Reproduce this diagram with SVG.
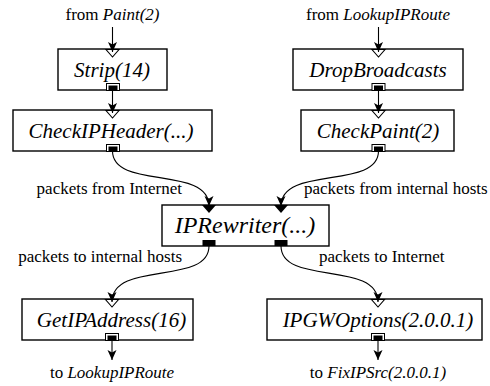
<svg xmlns="http://www.w3.org/2000/svg" width="490" height="386" viewBox="0 0 490 386" font-family="Liberation Serif, Times New Roman, serif">
<style>
.box{fill:#fff;stroke:#000;stroke-width:1.4}
.lbl{font-style:italic;font-size:21px;fill:#000}
.txt{font-size:17px;fill:#000}
.it{font-style:italic}
.conn{fill:none;stroke:#000;stroke-width:1.1}
.chev{fill:#fff;stroke:#000;stroke-width:1.1}
.opo{fill:#fff;stroke:#000;stroke-width:1}
.blk{fill:#000}
</style>
<defs>
<marker id="ah" markerUnits="userSpaceOnUse" markerWidth="10" markerHeight="10" refX="10" refY="4.5" orient="auto">
<path d="M0,0 L10,4.5 L0,9 L2.5,4.5 z" fill="#000"/>
</marker>
</defs>

<g id="Strip">
<rect class="box" x="58" y="49" width="109" height="41"/>
<polygon class="chev" points="106,49.5 119,49.5 112.5,57"/>
<rect class="opo" x="106.5" y="83.5" width="13" height="7"/>
<rect class="blk" x="108.5" y="85.5" width="9" height="5"/>
<text class="lbl" font-family="Liberation Serif" x="112" y="76.5" text-anchor="middle">Strip(14)</text>
</g>

<g id="CheckIPHeader">
<rect class="box" x="13" y="110" width="199" height="41"/>
<polygon class="chev" points="106,110.5 119,110.5 112.5,118"/>
<rect class="opo" x="106.5" y="144.5" width="13" height="7"/>
<rect class="blk" x="108.5" y="146.5" width="9" height="5"/>
<text class="lbl" font-family="Liberation Serif" x="111" y="137.5" text-anchor="middle">CheckIPHeader(...)</text>
</g>

<g id="DropBroadcasts">
<rect class="box" x="293" y="49" width="170" height="41"/>
<polygon class="chev" points="372,49.5 385,49.5 378.5,57"/>
<rect class="opo" x="372" y="83.5" width="13" height="7"/>
<rect class="blk" x="374" y="85.5" width="9" height="5"/>
<text class="lbl" font-family="Liberation Serif" x="378" y="76.5" text-anchor="middle">DropBroadcasts</text>
</g>

<g id="CheckPaint">
<rect class="box" x="301" y="110" width="153" height="41"/>
<polygon class="chev" points="372,110.5 385,110.5 378.5,118"/>
<rect class="opo" x="372" y="144.5" width="13" height="7"/>
<rect class="blk" x="374" y="146.5" width="9" height="5"/>
<text class="lbl" font-family="Liberation Serif" x="378" y="137.5" text-anchor="middle">CheckPaint(2)</text>
</g>

<g id="IPRewriter">
<rect class="box" x="162" y="205" width="167" height="41"/>
<polygon class="blk" points="202,205 216,205 209,213"/>
<polygon class="blk" points="274,205 288,205 281,213"/>
<rect class="blk" x="202.5" y="240" width="13" height="6"/>
<rect class="blk" x="274.5" y="240" width="13" height="6"/>
<text class="lbl" font-family="Liberation Serif" x="245" y="233" text-anchor="middle" style="font-size:24px">IPRewriter(...)</text>
</g>

<g id="GetIPAddress">
<rect class="box" x="22" y="299" width="171" height="41"/>
<polygon class="chev" points="105.5,299.5 118.5,299.5 112,307"/>
<rect class="opo" x="105.5" y="333.5" width="13" height="7"/>
<rect class="blk" x="107.5" y="335.5" width="9" height="5"/>
<text class="lbl" font-family="Liberation Serif" x="111.5" y="326.5" text-anchor="middle">GetIPAddress(16)</text>
</g>

<g id="IPGWOptions">
<rect class="box" x="267" y="299" width="215" height="41"/>
<polygon class="chev" points="371.5,299.5 384.5,299.5 378,307"/>
<rect class="opo" x="371.5" y="333.5" width="13" height="7"/>
<rect class="blk" x="373.5" y="335.5" width="9" height="5"/>
<text class="lbl" font-family="Liberation Serif" x="378" y="326.5" text-anchor="middle">IPGWOptions(2.0.0.1)</text>
</g>

<g id="connectors">
<path class="conn" d="M112.5,27 L112.5,52" marker-end="url(#ah)"/>
<path class="conn" d="M378.5,27 L378.5,52" marker-end="url(#ah)"/>
<path class="conn" d="M112.5,90 L112.5,113" marker-end="url(#ah)"/>
<path class="conn" d="M378.5,90 L378.5,113" marker-end="url(#ah)"/>
<path class="conn" d="M112.5,151 C112.5,190 209,165 209,206" marker-end="url(#ah)"/>
<path class="conn" d="M378.5,151 C378.5,190 281,165 281,206" marker-end="url(#ah)"/>
<path class="conn" d="M209,246 C209,286 112,260 112,302" marker-end="url(#ah)"/>
<path class="conn" d="M281,246 C281,286 378,260 378,302" marker-end="url(#ah)"/>
<path class="conn" d="M112,340 L112,360" marker-end="url(#ah)"/>
<path class="conn" d="M378,340 L378,360" marker-end="url(#ah)"/>
</g>

<g id="labels" font-family="Liberation Serif">
<text class="txt" x="112.5" y="20" text-anchor="middle">from <tspan class="it">Paint(2)</tspan></text>
<text class="txt" x="378" y="20" text-anchor="middle">from <tspan class="it">LookupIPRoute</tspan></text>
<text class="txt" x="182" y="194" text-anchor="end">packets from Internet</text>
<text class="txt" x="304" y="194" text-anchor="start">packets from internal hosts</text>
<text class="txt" x="182" y="262" text-anchor="end">packets to internal hosts</text>
<text class="txt" x="319" y="262" text-anchor="start">packets to Internet</text>
<text class="txt" x="112" y="378" text-anchor="middle">to <tspan class="it">LookupIPRoute</tspan></text>
<text class="txt" x="378" y="378" text-anchor="middle">to <tspan class="it">FixIPSrc(2.0.0.1)</tspan></text>
</g>
</svg>
